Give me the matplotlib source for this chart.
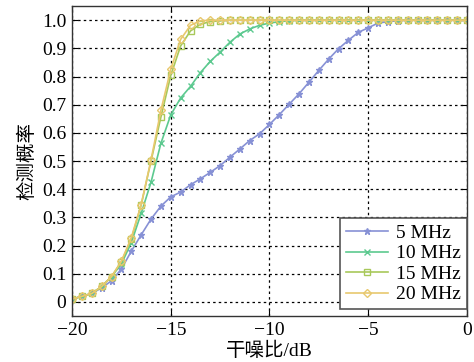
import matplotlib
matplotlib.use('Agg')
import matplotlib.pyplot as plt
import numpy as np

plt.rcParams['font.family'] = ['Liberation Serif', 'Noto Sans CJK SC']
plt.rcParams['mathtext.fontset'] = 'stix'
plt.rcParams['axes.unicode_minus'] = True

snr = np.arange(-20, 0.01, 0.5)

p5 = [0.01, 0.02, 0.03, 0.05, 0.075, 0.117, 0.18, 0.238, 0.294, 0.34, 0.373,
      0.39, 0.416, 0.437, 0.46, 0.484, 0.514, 0.543, 0.573, 0.597, 0.63,
      0.665, 0.702, 0.739, 0.78, 0.822, 0.862, 0.899, 0.929, 0.957, 0.973,
      0.99, 0.995, 0.998, 1.0, 1.0, 1.0, 1.0, 1.0, 1.0, 1.0]
p10 = [0.01, 0.02, 0.03, 0.055, 0.09, 0.135, 0.21, 0.314, 0.425, 0.563, 0.664,
       0.724, 0.765, 0.814, 0.854, 0.887, 0.922, 0.951, 0.969, 0.982, 0.99,
       0.995, 0.998, 1.0, 1.0, 1.0, 1.0, 1.0, 1.0, 1.0, 1.0,
       1.0, 1.0, 1.0, 1.0, 1.0, 1.0, 1.0, 1.0, 1.0, 1.0]
p15 = [0.01, 0.02, 0.03, 0.055, 0.09, 0.143, 0.223, 0.344, 0.5, 0.656, 0.804,
       0.909, 0.962, 0.986, 0.995, 0.998, 1.0, 1.0, 1.0, 1.0, 1.0,
       1.0, 1.0, 1.0, 1.0, 1.0, 1.0, 1.0, 1.0, 1.0, 1.0,
       1.0, 1.0, 1.0, 1.0, 1.0, 1.0, 1.0, 1.0, 1.0, 1.0]
p20 = [0.01, 0.02, 0.03, 0.055, 0.09, 0.145, 0.228, 0.345, 0.504, 0.68, 0.826,
       0.932, 0.982, 0.998, 1.0, 1.0, 1.0, 1.0, 1.0, 1.0, 1.0,
       1.0, 1.0, 1.0, 1.0, 1.0, 1.0, 1.0, 1.0, 1.0, 1.0,
       1.0, 1.0, 1.0, 1.0, 1.0, 1.0, 1.0, 1.0, 1.0, 1.0]

labels = ['5 MHz', '10 MHz', '15 MHz', '20 MHz']
colors = ['#8791d5', '#5cc98f', '#a8c85a', '#e8c86e']
markers = ['*', 'x', 's', 'D']

fig = plt.figure(figsize=(4.74, 3.62), dpi=100)
ax = fig.add_axes([0.152, 0.127, 0.833, 0.856])

for ys, lab, c, m in zip([p5, p10, p15, p20], labels, colors, markers):
    ms = 4 if m == 'D' else 5
    ax.plot(snr, ys, color=c, marker=m, markersize=ms, linewidth=1.2,
            markerfacecolor='none' if m in ('s', 'D') else c,
            markeredgecolor=c, markeredgewidth=1.0, label=lab)

ax.set_xlim(-20, 0)
ax.set_ylim(-0.05, 1.05)
ax.set_xticks([-20, -15, -10, -5, 0])
ax.set_xticklabels(['\u221220', '\u221215', '\u221210', '\u22125', '0'])
yt = np.arange(0, 1.01, 0.1)
ax.set_yticks(yt)
ax.set_yticklabels(['0'] + ['%.1f' % v for v in yt[1:]])
ax.tick_params(direction='in', top=True, right=True, labelsize=14, length=4, pad=4)
ax.grid(True, color='black', linestyle=(0, (2, 2.5)), linewidth=0.9)
for s in ax.spines.values():
    s.set_linewidth(1.0)
    s.set_color('#333333')

ax.set_xlabel('干噪比/dB', fontsize=14, labelpad=2)
ax.set_ylabel('检测概率', fontsize=14, labelpad=4)

leg = ax.legend(loc='lower right', bbox_to_anchor=(1.0, 0.022), borderaxespad=0,
                fontsize=14, fancybox=False, framealpha=1, edgecolor='#555555',
                handlelength=2.2, handletextpad=0.4, labelspacing=0.15,
                borderpad=0.3)
leg.get_frame().set_linewidth(1.2)

fig.savefig('out.png', dpi=100)
